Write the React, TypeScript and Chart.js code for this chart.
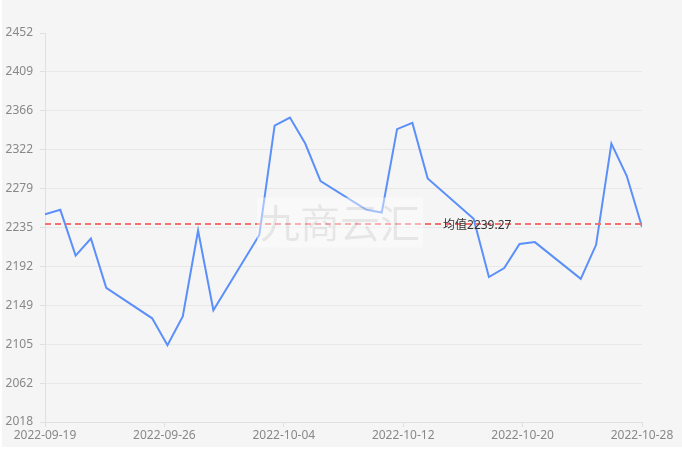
import React, { useEffect, useRef } from "react";
import { Chart, registerables } from "chart.js";

Chart.register(...registerables);

const DATES = [
  "2022-09-19", "2022-09-20", "2022-09-21", "2022-09-22", "2022-09-23",
  "2022-09-26", "2022-09-27", "2022-09-28", "2022-09-29", "2022-09-30",
  "2022-10-03", "2022-10-04", "2022-10-05", "2022-10-06", "2022-10-07",
  "2022-10-10", "2022-10-11", "2022-10-12", "2022-10-13", "2022-10-14",
  "2022-10-17", "2022-10-18", "2022-10-19", "2022-10-20", "2022-10-21",
  "2022-10-24", "2022-10-25", "2022-10-26", "2022-10-27", "2022-10-28",
];

const PRICES = [
  2250, 2255, 2204, 2223, 2168,
  2134, 2104, 2136, 2232, 2143,
  2227, 2349, 2358, 2329, 2287,
  2255, 2252, 2345, 2352, 2290,
  2245, 2180, 2190, 2217, 2219,
  2178, 2216, 2329, 2293, 2236,
];

const MEAN = 2239.27;
const MEAN_LABEL = "均值";
const WATERMARK = "九商云汇";

const X_TICK_LABELS = ["2022-09-19", "2022-09-26", "2022-10-04", "2022-10-12", "2022-10-20", "2022-10-28"];
const Y_TICK_LABELS = ["2018", "2062", "2105", "2149", "2192", "2235", "2279", "2322", "2366", "2409", "2452"];
const Y_MIN = 2018.3;
const Y_MAX = 2452.3;

const DAY = 86400000;
const toDay = (s: string) => {
  const [y, m, d] = s.split("-").map(Number);
  return Date.UTC(y, m - 1, d) / DAY;
};
const BASE = toDay(DATES[0]);
const X_MAX = toDay(DATES[DATES.length - 1]) - BASE;

const FONT = "'Noto Sans', 'Noto Sans CJK SC', sans-serif";

export default function App() {
  const ref = useRef<HTMLCanvasElement | null>(null);

  useEffect(() => {
    document.body.style.margin = "0";
    const canvas = ref.current;
    if (!canvas) return;

    const points = DATES.map((d, i) => ({ x: toDay(d) - BASE, y: PRICES[i] }));

    const xTicks = X_TICK_LABELS.map((_, i) => (X_MAX * i) / (X_TICK_LABELS.length - 1));
    const yTicks = Y_TICK_LABELS.map((_, i) => Y_MIN + ((Y_MAX - Y_MIN) * i) / (Y_TICK_LABELS.length - 1));

    const overlay = {
      id: "overlay",
      afterDatasetsDraw(chart: any) {
        const { ctx, chartArea, scales } = chart;
        const py = scales.y.getPixelForValue(MEAN);
        ctx.save();
        ctx.setLineDash([6, 4]);
        ctx.strokeStyle = "#f27272";
        ctx.lineWidth = 2;
        ctx.beginPath();
        ctx.moveTo(chartArea.left, py);
        ctx.lineTo(chartArea.right, py);
        ctx.stroke();
        ctx.setLineDash([]);
        ctx.font = `12px ${FONT}`;
        ctx.fillStyle = "#333";
        ctx.textAlign = "center";
        ctx.textBaseline = "middle";
        ctx.fillText(MEAN_LABEL + MEAN.toFixed(2), chartArea.left + 0.724 * (chartArea.right - chartArea.left), py + 2);

        const cx = chart.width / 2 - 2;
        const cy = chart.height / 2 - 1;
        ctx.fillStyle = "rgba(255,255,255,0.45)";
        ctx.fillRect(cx - 83, cy - 25, 166, 50);
        ctx.font = `40px 'Noto Sans CJK SC', sans-serif`;
        ctx.fillStyle = "rgba(0,0,0,0.08)";
        ctx.fillText(WATERMARK, cx, cy);
        ctx.restore();
      },
    };

    const chart = new Chart(canvas, {
      type: "line",
      data: {
        datasets: [
          {
            data: points,
            borderColor: "#5b8ff9",
            borderWidth: 2,
            pointRadius: 0,
            tension: 0,
            fill: false,
          },
        ],
      },
      options: {
        animation: false,
        responsive: false,
        layout: { padding: { left: 0, right: 40, top: 33, bottom: 0 } },
        plugins: { legend: { display: false }, tooltip: { enabled: false } },
        scales: {
          x: {
            type: "linear",
            min: 0,
            max: X_MAX,
            afterBuildTicks: (scale: any) => {
              scale.ticks = xTicks.map((v) => ({ value: v }));
            },
            afterFit: (scale: any) => {
              scale.height = 25;
            },
            ticks: {
              autoSkip: false,
              maxRotation: 0,
              color: "#888",
              font: { size: 12, family: FONT },
              padding: 1,
              callback: (_v: any, i: number) => X_TICK_LABELS[i],
            },
            grid: { drawOnChartArea: false, drawTicks: true, tickLength: 5, tickColor: "#e0e0e0" },
            border: { color: "#e0e0e0", width: 1 },
          },
          y: {
            type: "linear",
            min: Y_MIN,
            max: Y_MAX,
            afterBuildTicks: (scale: any) => {
              scale.ticks = yTicks.map((v) => ({ value: v }));
            },
            afterFit: (scale: any) => {
              scale.width = 43;
            },
            ticks: {
              autoSkip: false,
              color: "#888",
              font: { size: 12, family: FONT },
              padding: 7,
              callback: (_v: any, i: number) => Y_TICK_LABELS[i],
            },
            grid: {
              color: (c: any) => (c.index === Y_TICK_LABELS.length - 1 ? "rgba(0,0,0,0)" : "#e8e8e8"),
              tickColor: "#e0e0e0",
              tickLength: 5,
              lineWidth: 1,
            },
            border: { color: "#e0e0e0", width: 1 },
          },
        },
      },
      plugins: [overlay],
    });

    return () => chart.destroy();
  }, []);

  return (
    <div style={{ marginLeft: 2, width: 680, height: 447, background: "#f5f5f5" }}>
      <canvas ref={ref} width={680} height={447} style={{ display: "block" }} />
    </div>
  );
}
